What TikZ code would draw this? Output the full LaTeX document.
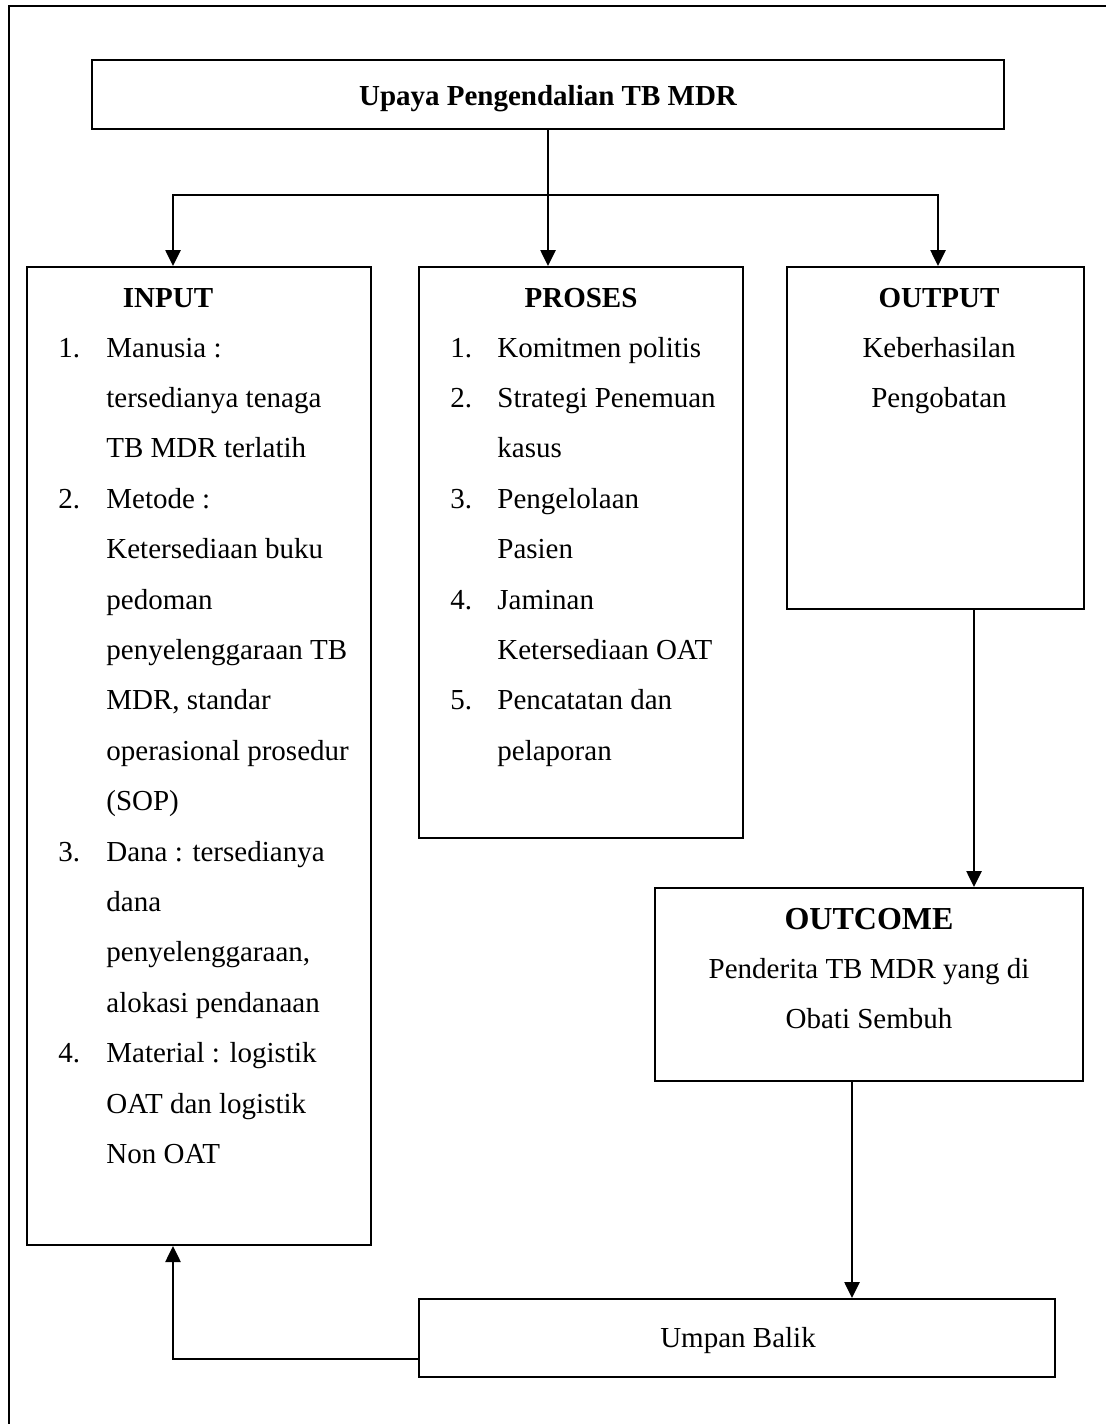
\documentclass[tikz,border=0pt]{standalone}
\usepackage{fontspec}
\setmainfont{Liberation Serif}
\usetikzlibrary{arrows.meta,fit}
\begin{document}
\begin{tikzpicture}[x=0.5pt,y=-0.5pt,
 box/.style={draw,line width=1pt,inner sep=0pt},
 conn/.style={line width=1.3pt,-{Triangle[length=8pt,width=7.5pt]}},
 plain/.style={line width=1.3pt},
 txt/.style={inner sep=0pt,font=\fontsize{14.5}{17}\selectfont},
 hd/.style={inner sep=0pt,font=\fontsize{14.5}{17}\selectfont\bfseries},
 hdbig/.style={inner sep=0pt,font=\fontsize{16}{19}\selectfont\bfseries},
]
\useasboundingbox (0,0) rectangle (1105,1424);
% frame
\node[box,fit={(9,6)(1125,1450)}] (frame) {};
% boxes
\node[box,fit={(92,60)(1004,129)}] (top) {};
\node[box,fit={(27,267)(371,1245)}] (input) {};
\node[box,fit={(419,267)(743,838)}] (proses) {};
\node[box,fit={(787,267)(1084,609)}] (output) {};
\node[box,fit={(655,888)(1083,1081)}] (outcome) {};
\node[box,fit={(419,1299)(1055,1377)}] (umpan) {};
% helper coordinates
\coordinate (br) at (548,195);
\coordinate (xin) at (173,0);
\coordinate (xout) at (938,0);
\coordinate (xo2) at (974,0);
\coordinate (xo3) at (852,0);
\coordinate (yfb) at (0,1359);
% connectors
\draw[plain] (top.south) -- (br);
\draw[conn] (br) -| (input.north -| xin);
\draw[conn] (br) -| (output.north -| xout);
\draw[conn] (br) -- (proses.north -| br);
\draw[conn] (output.south -| xo2) -- (outcome.north -| xo2);
\draw[conn] (outcome.south -| xo3) -- (umpan.north -| xo3);
\draw[conn] (umpan.west |- yfb) -| (input.south -| xin);
% texts
\node[hd,anchor=base] (tTop) at (548,105) {Upaya Pengendalian TB MDR};
\node[hd,anchor=base] (tIn) at (168,307) {INPUT};
\node[hd,anchor=base] (tPr) at (581,307) {PROSES};
\node[hd,anchor=base] (tOut) at (939,307) {OUTPUT};
\node[hdbig,anchor=base] (tOc) at (869,929) {OUTCOME};
\node[txt,anchor=base] (tOc1) at (869,978) {Penderita TB MDR yang di};
\node[txt,anchor=base] (tOc2) at (869,1028) {Obati Sembuh};
\node[txt,anchor=base] (tOut1) at (939,357) {Keberhasilan};
\node[txt,anchor=base] (tOut2) at (939,407) {Pengobatan};
\node[txt,anchor=base] (tUm) at (738,1347) {Umpan Balik};
% input list
\foreach \t [count=\i from 0] in {Manusia :,tersedianya tenaga,TB MDR terlatih,Metode :,Ketersediaan buku,pedoman,penyelenggaraan TB,{MDR, standar},operasional prosedur,(SOP),Dana : tersedianya,dana,{penyelenggaraan,},alokasi pendanaan,Material : logistik,OAT dan logistik,Non OAT}
  \node[txt,anchor=base west] (in\i) at (106,{357+50.4*\i}) {\t};
\foreach \n/\i in {1/0,2/3,3/10,4/14}
  \node[txt,anchor=base west] (inn\n) at (58,{357+50.4*\i}) {\n.};
% proses list
\foreach \t [count=\i from 0] in {Komitmen politis,Strategi Penemuan,kasus,Pengelolaan,Pasien,Jaminan,Ketersediaan OAT,Pencatatan dan,pelaporan}
  \node[txt,anchor=base west] (pr\i) at (497,{357+50.4*\i}) {\t};
\foreach \n/\i in {1/0,2/1,3/3,4/5,5/7}
  \node[txt,anchor=base west] (prn\n) at (450,{357+50.4*\i}) {\n.};
\end{tikzpicture}
\end{document}
